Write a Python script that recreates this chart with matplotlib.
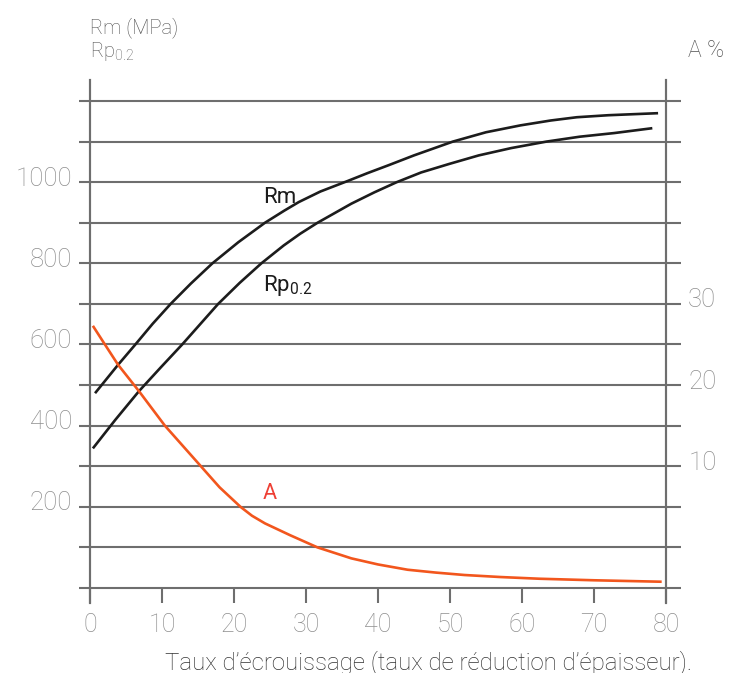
import numpy as np
import matplotlib
matplotlib.use("Agg")
import matplotlib.pyplot as plt
from matplotlib.transforms import ScaledTranslation

# taux d'écrouissage (%) -> Rm (MPa)
rm_x = [0.7, 3.9, 6.3, 8.7, 11.2, 14.0, 17.0, 20.6, 24.3, 27.0, 29.0, 32.0, 35.8,
        38.5, 41.5, 45.0, 50.4, 55.0, 59.8, 64.0, 67.6, 72.0, 78.9]
rm_y = [480, 550, 600, 651, 700, 750, 800, 852, 900, 930, 951, 977, 1003,
        1022, 1042, 1066, 1100, 1123, 1140, 1152, 1160, 1165, 1170]

# Rp0.2 (MPa)
rp_x = [0.4, 3.5, 6.8, 9.8, 12.8, 15.3, 17.8, 20.8, 23.8, 26.9, 29.2, 31.6, 34.0,
        36.3, 39.5, 42.6, 46.0, 49.9, 54.0, 58.5, 63.4, 68.0, 72.8, 78.1]
rp_y = [344, 414, 485, 543, 600, 650, 700, 752, 800, 844, 873, 900, 924,
        947, 975, 1000, 1024, 1045, 1066, 1084, 1100, 1112, 1121, 1133]

a_x = [0.4, 2.0, 3.9, 6.8, 10.4, 15.4, 18.0, 20.9, 22.5, 24.3, 27.8, 31.6, 36.3,
       40.0, 44.1, 48.0, 52.0, 57.0, 62.4, 70.0, 79.4]
a_y = [27.3, 25.1, 22.5, 19.25, 15.0, 10.0, 7.4, 5.0, 3.9, 2.96, 1.5, 0.0, -1.35,
       -2.1, -2.75, -3.1, -3.4, -3.65, -3.86, -4.05, -4.23]

x_ticks = [0, 10, 20, 30, 40, 50, 60, 70, 80]
y_ticks = list(range(0, 1300, 100))
y_labels = ["200", "400", "600", "800", "1000"]
a_ticks = [10, 20, 30]

grey = "#6e6e6e"
lbl_grey = "#8e8e8e"
fnt = "Roboto"

fig = plt.figure(figsize=(7.43, 6.73), dpi=100)
ax = fig.add_axes([90/743, 1-603/673, 576/743, (603-79.5)/673])

y0, y1 = -37, 1253
ax.set_xlim(0, 80)
ax.set_ylim(y0, y1)

ax.plot(rm_x, rm_y, color="#1c1c1c", lw=1.9, solid_capstyle="butt",
        solid_joinstyle="round")
ax.plot(rp_x, rp_y, color="#1c1c1c", lw=1.9, solid_capstyle="butt",
        solid_joinstyle="round")

# axe de droite : A = (valeur gauche - 100) / 20
ax2 = ax.twinx()
ax2.set_ylim((y0 - 100) / 20, (y1 - 100) / 20)
ax2.plot(a_x, a_y, color="#f2561d", lw=1.9, solid_capstyle="butt",
         solid_joinstyle="round")

# grille horizontale
ax.set_yticks(y_ticks)
ax.set_yticklabels([str(v) if str(v) in y_labels else "" for v in y_ticks])
ax.grid(axis="y", color=grey, lw=1.5)
ax.set_axisbelow(True)

ax.set_xticks(x_ticks)
ax.tick_params(axis="x", direction="in", length=10.8, width=1.5, color=grey,
               pad=7, labelsize=18, labelcolor=lbl_grey)
ax.tick_params(axis="y", direction="out", length=7.9, width=1.5, color=grey,
               pad=5, labelsize=18.5, labelcolor=lbl_grey,
               right=True, labelright=False)
for t in ax.yaxis.get_major_ticks():
    t.tick2line.set_markersize(10.8)

ax2.set_yticks(a_ticks)
ax2.tick_params(axis="y", length=0, pad=16, labelsize=18.5, labelcolor=lbl_grey)

for a in (ax, ax2):
    for s in ("top", "bottom"):
        a.spines[s].set_visible(False)
    for s in ("left", "right"):
        a.spines[s].set_color(grey)
        a.spines[s].set_linewidth(1.5)

for lab in ax.get_xticklabels() + ax.get_yticklabels() + ax2.get_yticklabels():
    lab.set_fontfamily(fnt)
    lab.set_fontweight("light")
up = ScaledTranslation(0, 6/100, fig.dpi_scale_trans)
for lab in ax.get_yticklabels() + ax2.get_yticklabels():
    lab.set_transform(lab.get_transform() + up)

# étiquettes des courbes
ax.text(24.0, 962, "Rm", fontsize=16, color="#1c1c1c", family=fnt,
        va="center", ha="left")
ax.text(24.0, 745, r"Rp$_{\mathregular{0.2}}$", fontsize=16, color="#1c1c1c",
        family=fnt, va="center", ha="left")
ax2.text(24.0, 6.7, "A", fontsize=15.5, color="#ee4035", family=fnt,
         va="center", ha="left")

# titres des axes
fig.text(90/743, 1-33/673, "Rm (MPa)", fontsize=14.5, color="#505050",
         family=fnt, weight="light", va="baseline")
fig.text(90/743, 1-57/673, r"Rp$_{\mathregular{0.2}}$", fontsize=14.5,
         color="#505050", family=fnt, weight="light", va="baseline")
fig.text(688/743, 1-57/673, "A %", fontsize=16.5, color="#505050",
         family=fnt, weight="light", va="baseline")
fig.text(165/743, 1-669/673,
         "Taux d\u2019écrouissage (taux de réduction d\u2019épaisseur).",
         fontsize=17.3, color="#333333", family=fnt, weight="light",
         va="baseline")

fig.savefig("out.png", dpi=100)
